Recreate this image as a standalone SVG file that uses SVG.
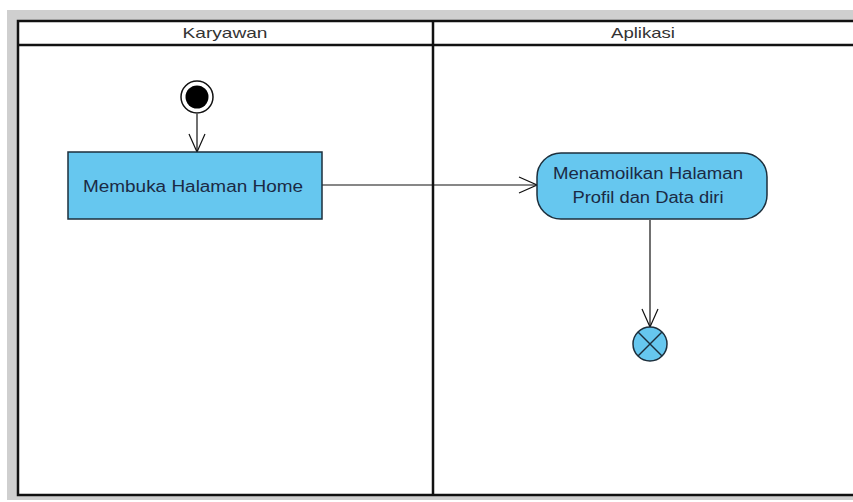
<svg xmlns="http://www.w3.org/2000/svg" width="853" height="502" viewBox="0 0 853 502">
  <defs>
    <style>
      .lane { fill: none; stroke: #111; stroke-width: 2.5; }
      .hdr { font-family: "Liberation Sans", Arial, sans-serif; font-size: 15px; fill: #333; text-anchor: middle; }
      .act { fill: #66c7ef; stroke: #1d2f3c; stroke-width: 1.5; }
      .lbl { font-family: "Liberation Sans", Arial, sans-serif; font-size: 16px; fill: #1b2a44; text-anchor: middle; }
      .flow { fill: none; stroke: #111; stroke-width: 1.2; }
    </style>
    <marker id="open" viewBox="0 0 20 20" refX="19" refY="10" markerWidth="20" markerHeight="20" markerUnits="userSpaceOnUse" orient="auto">
      <path d="M1 2 L19 10 L1 18" fill="none" stroke="#111" stroke-width="1.2"/>
    </marker>
  </defs>

  <!-- page background -->
  <rect x="0" y="0" width="853" height="502" fill="#ffffff"/>
  <rect x="7" y="10" width="846" height="490" fill="#cfcfcf"/>

  <!-- swimlanes -->
  <g id="swimlanes">
    <rect x="18" y="21" width="845" height="474" fill="#ffffff"/>
    <rect class="lane" x="18" y="21" width="845" height="474"/>
    <line class="lane" x1="18" y1="45" x2="853" y2="45"/>
    <line class="lane" x1="433" y1="21" x2="433" y2="495"/>
    <text class="hdr" x="225" y="38" textLength="85" lengthAdjust="spacingAndGlyphs">Karyawan</text>
    <text class="hdr" x="643" y="38" textLength="64" lengthAdjust="spacingAndGlyphs">Aplikasi</text>
  </g>

  <!-- connectors -->
  <g id="connectors">
    <line class="flow" x1="197" y1="114" x2="197" y2="152" marker-end="url(#open)"/>
    <line class="flow" x1="322" y1="185" x2="537" y2="185" marker-end="url(#open)"/>
    <line class="flow" x1="650" y1="220" x2="650" y2="327" marker-end="url(#open)"/>
  </g>

  <g id="start">
    <circle cx="197" cy="97" r="16" fill="#ffffff" stroke="#111" stroke-width="1.5"/>
    <circle cx="197" cy="97" r="11.5" fill="#000"/>
  </g>

  <g id="membuka-halaman-home">
    <rect class="act" x="68" y="152" width="254" height="67"/>
    <text class="lbl" x="193" y="192" textLength="220" lengthAdjust="spacingAndGlyphs">Membuka Halaman Home</text>
  </g>

  <g id="menampilkan-profil">
    <rect class="act" x="537" y="153" width="230" height="66" rx="24" ry="24"/>
    <text class="lbl" x="648" y="179" textLength="190" lengthAdjust="spacingAndGlyphs">Menamoilkan Halaman</text>
    <text class="lbl" x="648" y="203" textLength="151" lengthAdjust="spacingAndGlyphs">Profil dan Data diri</text>
  </g>

  <g id="end">
    <circle cx="650" cy="344" r="17" fill="#66c7ef" stroke="#1d2f3c" stroke-width="1.5"/>
    <line x1="638" y1="332" x2="662" y2="356" stroke="#1d2f3c" stroke-width="1.5"/>
    <line x1="662" y1="332" x2="638" y2="356" stroke="#1d2f3c" stroke-width="1.5"/>
  </g>
</svg>
